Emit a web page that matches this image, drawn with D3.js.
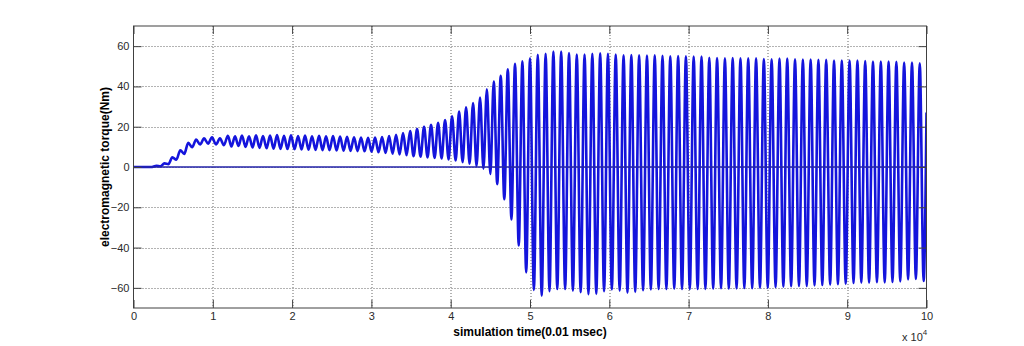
<!DOCTYPE html>
<html>
<head>
<meta charset="utf-8">
<script src="https://cdn.jsdelivr.net/npm/d3@7"></script>
<style>
  html, body { margin: 0; padding: 0; background: #fff; }
  svg { display: block; font-family: Arial, "Liberation Sans", sans-serif; }
</style>
</head>
<body>
<svg id="chart" width="1024" height="346"></svg>
<script>
// ---- data (time in units of 10^4 samples, torque in Nm) ----
const xTicks = [0, 1, 2, 3, 4, 5, 6, 7, 8, 9, 10];
const yTicks = [-60, -40, -20, 0, 20, 40, 60];

// flat start before the torque builds up
const startTime   = [0, 0.22];
const startTorque = [0, 0];

// successive maxima of the torque oscillation
const peakTime = [
  0.29, 0.39, 0.49, 0.59, 0.69, 0.79, 0.89, 0.99, 1.09, 1.19,
  1.280, 1.368, 1.457, 1.545, 1.633, 1.722, 1.810, 1.898, 1.986, 2.075,
  2.163, 2.251, 2.340, 2.428, 2.516, 2.605, 2.693, 2.781, 2.869, 2.958,
  3.046, 3.134, 3.223, 3.311, 3.399, 3.488, 3.576, 3.664, 3.752, 3.841,
  3.929, 4.017, 4.106, 4.194, 4.282,
  4.370, 4.456, 4.543, 4.631, 4.720, 4.811, 4.904,
  5.000, 5.098, 5.197, 5.295, 5.393, 5.492, 5.590, 5.688, 5.786, 5.885,
  5.983, 6.081, 6.180, 6.278, 6.376, 6.475, 6.573, 6.671, 6.769, 6.868,
  6.966, 7.064, 7.163, 7.261, 7.359, 7.458, 7.556, 7.654, 7.752, 7.851,
  7.949, 8.047, 8.146, 8.244, 8.342, 8.441, 8.539, 8.637, 8.735, 8.834,
  8.932, 9.030, 9.129, 9.227, 9.325, 9.424, 9.522, 9.620, 9.718, 9.817,
  9.915
];
const peakTorque = [
  0.6, 1.8, 4.8, 8.3, 12.0, 13.6, 14.2, 14.7, 14.2, 15.5,
  15.2, 15.6, 15.3, 15.7, 15.4, 15.6, 15.8, 15.5, 15.7, 15.4,
  15.6, 15.3, 15.5, 15.2, 15.4, 15.1, 15.0, 14.8, 14.6, 14.5,
  14.6, 14.9, 15.4, 16.0, 16.8, 17.8, 18.8, 19.9, 21.0, 22.0,
  23.3, 25.2, 27.5, 29.6, 31.8,
  34.5, 38.6, 42.4, 45.3, 48.5, 51.2, 52.5,
  54.0, 55.7, 56.2, 57.3, 57.3, 56.6, 55.8, 55.8, 56.2, 56.5,
  56.2, 55.8, 55.4, 55.6, 55.5, 55.3, 55.4, 55.2, 55.0, 55.1,
  54.9, 54.8, 54.8, 54.2, 54.1, 54.0, 54.1, 54.0, 54.0, 54.0,
  53.6, 53.5, 53.8, 53.9, 53.5, 53.4, 53.4, 53.2, 53.2, 52.9,
  52.8, 52.8, 52.8, 52.6, 52.3, 52.3, 52.3, 52.2, 51.8, 51.8,
  51.5
];

// successive minima, each one following the maximum of the same index
const troughTime = [
  0.34, 0.44, 0.54, 0.64, 0.74, 0.84, 0.94, 1.04, 1.14, 1.235,
  1.324, 1.413, 1.501, 1.589, 1.678, 1.766, 1.854, 1.942, 2.031, 2.119,
  2.207, 2.296, 2.384, 2.472, 2.561, 2.649, 2.737, 2.825, 2.914, 3.002,
  3.090, 3.179, 3.267, 3.355, 3.444, 3.532, 3.620, 3.708, 3.797, 3.885,
  3.973, 4.062, 4.150, 4.238, 4.326,
  4.413, 4.500, 4.587, 4.676, 4.766, 4.858, 4.952,
  5.049, 5.148, 5.246, 5.344, 5.443, 5.541, 5.639, 5.737, 5.836, 5.934,
  6.032, 6.131, 6.229, 6.327, 6.426, 6.524, 6.622, 6.720, 6.819, 6.917,
  7.015, 7.114, 7.212, 7.310, 7.409, 7.507, 7.605, 7.703, 7.802, 7.900,
  7.998, 8.097, 8.195, 8.293, 8.392, 8.490, 8.588, 8.686, 8.785, 8.883,
  8.981, 9.080, 9.178, 9.276, 9.375, 9.473, 9.571, 9.669, 9.768, 9.866,
  9.964
];
const troughTorque = [
  0.4, 1.4, 3.6, 6.5, 9.8, 11.2, 11.6, 11.2, 10.8, 10.2,
  10.4, 10.0, 9.7, 9.5, 9.3, 9.1, 9.0, 8.9, 8.8, 8.7,
  8.6, 8.5, 8.4, 8.3, 8.2, 8.1, 8.0, 7.9, 7.8, 7.6,
  7.3, 7.0, 6.6, 6.2, 5.8, 5.4, 5.1, 4.8, 4.5, 4.2,
  3.8, 3.2, 2.4, 1.6, 0.5,
  -0.8, -3.5, -8.5, -16.0, -26.0, -39.0, -52.3,
  -61.0, -63.9, -61.6, -60.6, -60.6, -61.4, -62.2, -63.1, -63.0, -61.6,
  -60.8, -61.4, -62.4, -62.0, -61.2, -60.8, -60.6, -60.6, -60.4, -60.6,
  -60.5, -60.6, -60.5, -60.4, -60.2, -60.4, -60.3, -60.1, -60.2, -60.0,
  -60.0, -59.6, -59.4, -59.2, -59.0, -59.0, -58.8, -58.6, -58.4, -58.2,
  -58.0, -57.6, -57.4, -57.4, -57.2, -57.3, -57.1, -56.8, -55.8, -55.6,
  -56.6
];

// last sample at the end of the run
const endTime   = [10];
const endTorque = [27];

// reference (load) torque
const loadTime   = [0, 10];
const loadTorque = [0, 0];

// ---- layout ----
const W = 1024, H = 346;
const margin = { left: 133.5, right: 97.5, top: 26, bottom: 38 };
const innerW = W - margin.left - margin.right;
const innerH = H - margin.top - margin.bottom;

const x = d3.scaleLinear().domain([0, 10]).range([0, innerW]);
const y = d3.scaleLinear().domain([-70, 70]).range([innerH, 0]);

const svg = d3.select('#chart');
svg.append('rect').attr('width', W).attr('height', H).attr('fill', '#fff');

const g = svg.append('g').attr('transform', `translate(${margin.left},${margin.top})`);

svg.append('defs').append('clipPath').attr('id', 'plotClip')
  .append('rect').attr('x', 0).attr('y', 0).attr('width', innerW).attr('height', innerH);

// dotted grid
const grid = g.append('g').attr('class', 'grid')
  .attr('stroke', '#666').attr('stroke-width', 1).attr('stroke-dasharray', '1,2');
grid.selectAll('line.v').data(xTicks.slice(1, -1)).join('line')
  .attr('class', 'v')
  .attr('x1', d => Math.round(x(d)) + 0.5).attr('x2', d => Math.round(x(d)) + 0.5)
  .attr('y1', 0).attr('y2', innerH);
grid.selectAll('line.h').data(yTicks).join('line')
  .attr('class', 'h')
  .attr('x1', 0).attr('x2', innerW)
  .attr('y1', d => Math.round(y(d)) + 0.5).attr('y2', d => Math.round(y(d)) + 0.5);

// torque trace: start, alternating extrema, end
const torquePts = [];
startTime.forEach((t, i) => torquePts.push([t, startTorque[i]]));
const nCycles = Math.min(peakTime.length, peakTorque.length, troughTime.length, troughTorque.length);
for (let i = 0; i < nCycles; i++) {
  torquePts.push([peakTime[i], peakTorque[i]]);
  torquePts.push([troughTime[i], troughTorque[i]]);
}
endTime.forEach((t, i) => torquePts.push([t, endTorque[i]]));
torquePts.sort((a, b) => a[0] - b[0]);

const line = d3.line()
  .x(d => x(d[0]))
  .y(d => y(d[1]))
  .curve(d3.curveMonotoneX);

const plot = g.append('g').attr('clip-path', 'url(#plotClip)');

plot.append('path')
  .datum(torquePts)
  .attr('fill', 'none')
  .attr('stroke', '#1414dc')
  .attr('stroke-width', 2.6)
  .attr('stroke-linejoin', 'round')
  .attr('d', line);

plot.append('path')
  .datum(loadTime.map((t, i) => [t, loadTorque[i]]))
  .attr('fill', 'none')
  .attr('stroke', '#2323a8')
  .attr('stroke-width', 1.4)
  .attr('d', d3.line().x(d => x(d[0])).y(d => y(d[1])));

// axes with inward ticks on all four sides
const tickLen = 8;
const axisColor = '#404040';

const styleAxis = sel => {
  sel.select('.domain').remove();
  sel.selectAll('.tick line').attr('stroke', axisColor);
  sel.selectAll('.tick text').attr('fill', '#2a2a2a').style('font-size', '11px')
    .style('font-family', 'Arial, "Liberation Sans", sans-serif');
};

g.append('g').attr('transform', `translate(0,${innerH})`)
  .call(d3.axisBottom(x).tickValues(xTicks).tickSize(-tickLen).tickPadding(4).tickFormat(d3.format('d')))
  .call(styleAxis);

g.append('g')
  .call(d3.axisTop(x).tickValues(xTicks).tickSize(-tickLen).tickFormat(''))
  .call(styleAxis);

g.append('g')
  .call(d3.axisLeft(y).tickValues(yTicks).tickSize(-tickLen).tickPadding(4).tickFormat(d3.format('d')))
  .call(styleAxis);

g.append('g').attr('transform', `translate(${innerW},0)`)
  .call(d3.axisRight(y).tickValues(yTicks).tickSize(-tickLen).tickFormat(''))
  .call(styleAxis);

// axes box
g.append('rect')
  .attr('x', 0).attr('y', 0).attr('width', innerW).attr('height', innerH)
  .attr('fill', 'none').attr('stroke', axisColor).attr('stroke-width', 1);

// titles
svg.append('text')
  .attr('x', margin.left + innerW / 2).attr('y', 336)
  .attr('text-anchor', 'middle')
  .style('font-size', '12px').style('font-weight', 'bold').attr('fill', '#000')
  .text('simulation time(0.01 msec)');

svg.append('text')
  .attr('transform', `translate(109,${margin.top + innerH / 2}) rotate(-90)`)
  .attr('text-anchor', 'middle')
  .style('font-size', '12px').style('font-weight', 'bold').attr('fill', '#000')
  .text('electromagnetic torque(Nm)');

// exponent of the time axis
const expo = svg.append('text')
  .attr('x', 902).attr('y', 341)
  .style('font-size', '11px').attr('fill', '#2a2a2a');
expo.append('tspan').text('x 10');
expo.append('tspan').attr('dy', -6).style('font-size', '8px').text('4');
</script>
</body>
</html>
